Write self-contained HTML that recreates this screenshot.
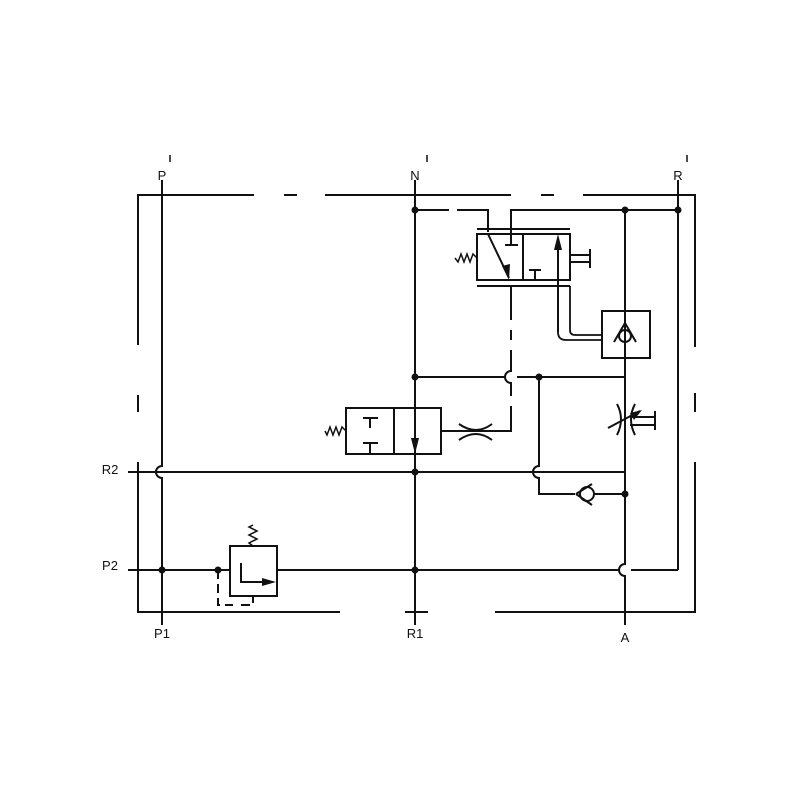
<!DOCTYPE html>
<html><head><meta charset="utf-8"><style>html,body{margin:0;padding:0;background:#fff}svg{display:block}</style></head><body>
<svg width="800" height="800" viewBox="0 0 800 800" xmlns="http://www.w3.org/2000/svg">
<rect width="800" height="800" fill="#fff"/>
<g stroke="#111" stroke-width="2" fill="none">
<path d="M138,345 V195 H254 M284,195 H297 M325,195 H511 M541,195 H554 M583,195 H695 V347 M138,395 V412 M138,462 V612 H340 M405,612 H428 M495,612 H695 V462 M695,393 V412"/>
<path d="M170,155 V162 M427,155 V162 M687,155 V162" stroke-width="1.5"/>
<path d="M162,180 V466 A6,6 0 0 0 162,478 V625"/>
<path d="M415,180 V625"/>
<path d="M625,210 V564 A6,6 0 0 0 625,576 V625"/>
<path d="M678,180 V570"/>
<path d="M128,472 H625"/>
<path d="M128,570 H230 M277,570 H619 M631,570 H678"/>
<path d="M415,210 H449 M457,210 H488 V232 M511,245 V210 H678"/>
<rect x="477" y="234" width="93" height="46"/>
<path d="M523,234 V280 M477,229 H570 M477,286 H570"/>
<path d="M477,258 L473,254 L470,262 L467,254 L464,262 L461,254 L458,262 L455,258" stroke-width="1.5"/>
<path d="M488,234 L509,278"/>
<path d="M505,245 H518"/>
<path d="M535,280 V270 M529,270 H541"/>
<path d="M558,332 V244"/>
<path d="M570,255 H590 M570,262 H590 M590,249 V268"/>
<path d="M570,286 V330 Q570,335 575,335 H602 M558,332 Q558,340 566,340 H602" stroke-width="1.8"/>
<rect x="602" y="311" width="48" height="47"/>
<circle cx="625" cy="336" r="6"/>
<path d="M614,342 L625,323 L636,342"/>
<path d="M511,286 V320 M511,330 V340 M511,350 V371 A6,6 0 0 0 511,383 V396 M511,406 V431 H441"/>
<path d="M415,377 H505 M517,377 H625"/>
<path d="M539,377 V466 A6,6 0 0 0 539,478 V494 H575 M595,494 H625"/>
<circle cx="587" cy="494" r="7"/>
<path d="M576,494 L592,484 M576,494 L592,505"/>
<path d="M459,424 Q476,436 492,424 M459,440 Q476,428 492,440"/>
<path d="M617,404 Q625,419 617,435 M635,404 Q627,419 635,435"/>
<path d="M608,428 L640,411"/>
<path d="M630,417 H655 M630,425 H655 M655,411 V430"/>
<rect x="346" y="408" width="95" height="46"/>
<path d="M394,408 V454"/>
<path d="M346,431 L342,427 L339,435 L336,427 L333,435 L330,427 L327,435 L325,431" stroke-width="1.5"/>
<path d="M363,418 H378 M370,418 V428 M363,443 H378 M370,443 V454"/>
<rect x="230" y="546" width="47" height="50"/>
<path d="M253,546 L249,543 L257,539 L249,535 L257,531 L249,527 L253,525" stroke-width="1.5"/>
<path d="M241,563 V582 H268"/>
<path d="M218,570 V605 H233 M241,605 H253 V596" stroke-dasharray="9,5"/>
</g>
<g fill="#111">
<polygon points="509,280 502,266 510,264"/>
<polygon points="558,234 554,250 562,250"/>
<polygon points="415,454 411,438 419,438"/>
<polygon points="276,582 262,578 262,586"/>
<polygon points="642,410 630,413 634,420"/>
<circle cx="415" cy="210" r="3.5"/><circle cx="625" cy="210" r="3.5"/><circle cx="678" cy="210" r="3.5"/>
<circle cx="415" cy="377" r="3.5"/><circle cx="539" cy="377" r="3.5"/><circle cx="415" cy="472" r="3.5"/>
<circle cx="625" cy="494" r="3.5"/><circle cx="162" cy="570" r="3.5"/><circle cx="218" cy="570" r="3.5"/><circle cx="415" cy="570" r="3.5"/>
</g>
<g font-family="Liberation Sans, sans-serif" font-size="13" fill="#111" text-anchor="middle">
<text x="162" y="180">P</text><text x="415" y="180">N</text><text x="678" y="180">R</text>
<text x="110" y="474">R2</text><text x="110" y="570">P2</text>
<text x="162" y="638">P1</text><text x="415" y="638">R1</text><text x="625" y="642">A</text>
</g>
</svg>
</body></html>
